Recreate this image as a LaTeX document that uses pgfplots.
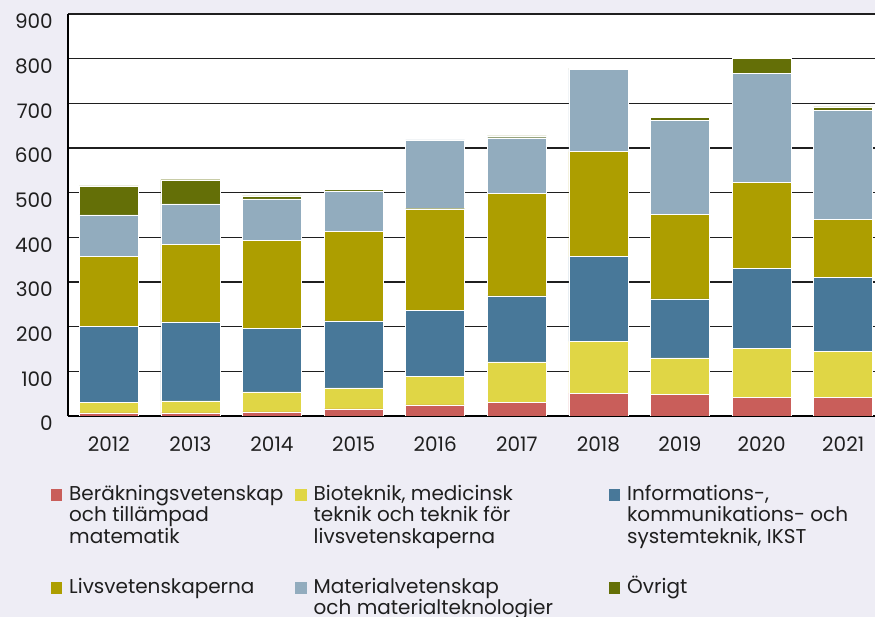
\documentclass[border=0pt]{standalone}
\usepackage{pgfplots}
\pgfplotsset{compat=1.18}
\usepackage{fontspec}
\setmainfont{Poppins}
\definecolor{bgc}{HTML}{EEEDF5}
\definecolor{cred}{HTML}{C95E5A}
\definecolor{cyel}{HTML}{E0D645}
\definecolor{cblu}{HTML}{487899}
\definecolor{coli}{HTML}{AD9E00}
\definecolor{clbl}{HTML}{92ACBE}
\definecolor{cgrn}{HTML}{646F07}
\definecolor{txt}{HTML}{1F1F1F}
\begin{document}
\begin{tikzpicture}
\fill[bgc] (-68pt,-201pt) rectangle (807pt,416pt);
\begin{axis}[
  at={(0pt,0pt)}, anchor=south west,
  scale only axis, width=807pt, height=402pt,
  ybar stacked, bar width=59pt,
  xmin=-0.5, xmax=9.39, ymin=0, ymax=900,
  xtick={0,...,9},
  xticklabels={2012,2013,2014,2015,2016,2017,2018,2019,2020,2021},
  ytick={0,100,...,900},
  separate axis lines,
  axis x line*=bottom, axis y line*=left,
  axis line style={-, black, line width=1.4pt},
  ymajorgrids, major grid style={black!88, line width=1.1pt},
  major tick length=0pt,
  axis background/.style={fill=white},
  /pgf/number format/assume math mode=true,
  yticklabel style={anchor=east, inner sep=0pt, xshift=-15pt, yshift=-7.5pt, font=\fontsize{20}{22}\selectfont, text=txt},
  xticklabel style={anchor=north, inner sep=0pt, yshift=-21pt, font=\fontsize{20}{22}\selectfont, text=txt},
  every axis plot/.append style={draw=white, line width=0.4pt},
  legend columns=3,
  legend image code/.code={\fill[#1,draw=none] (0pt,-0.5pt) rectangle (11.5pt,11pt);},
  legend style={at={(axis description cs:0,0)}, anchor=north west, xshift=-17.3pt, yshift=-69pt,
    draw=none, fill=none, inner sep=0pt, outer sep=0pt,
    row sep=74pt,
    /tikz/every odd column/.append style={column sep=7pt},
    cells={anchor=base west},
    nodes={inner sep=0pt, outer sep=0pt, font=\fontsize{20}{21.5}\selectfont, text=txt}},
]
\addplot[fill=cred] coordinates {(0,7) (1,7) (2,9) (3,16) (4,25) (5,31) (6,51) (7,49) (8,42) (9,42)};
\addlegendentry{\parbox[t]{226pt}{\raggedright Beräkningsvetenskap\\och tillämpad\\matematik}}
\addplot[fill=cyel] coordinates {(0,24) (1,27) (2,45) (3,47) (4,63) (5,90) (6,116) (7,81) (8,110) (9,103)};
\addlegendentry{\parbox[t]{295pt}{\raggedright Bioteknik, medicinsk\\teknik och teknik för\\livsvetenskaperna}}
\addplot[fill=cblu] coordinates {(0,170) (1,177) (2,143) (3,150) (4,148) (5,148) (6,190) (7,132) (8,179) (9,166)};
\addlegendentry{\parbox[t]{240pt}{\raggedright Informations-,\\kommunikations- och\\systemteknik, IKST}}
\addplot[fill=coli] coordinates {(0,157) (1,174) (2,197) (3,201) (4,228) (5,230) (6,235) (7,190) (8,192) (9,130)};
\addlegendentry{\parbox[t]{226pt}{\raggedright Livsvetenskaperna}}
\addplot[fill=clbl] coordinates {(0,92) (1,90) (2,92) (3,90) (4,154) (5,124) (6,184) (7,210) (8,244) (9,244)};
\addlegendentry{\parbox[t]{295pt}{\raggedright Materialvetenskap\\och materialteknologier}}
\addplot[fill=cgrn] coordinates {(0,65) (1,54) (2,7) (3,4) (4,2) (5,4) (6,2) (7,7) (8,34) (9,7)};
\addlegendentry{\parbox[t]{240pt}{\raggedright Övrigt}}
\end{axis}
\pgfresetboundingbox
\useasboundingbox (-68pt,-201pt) rectangle (807pt,416pt);
\end{tikzpicture}
\end{document}
